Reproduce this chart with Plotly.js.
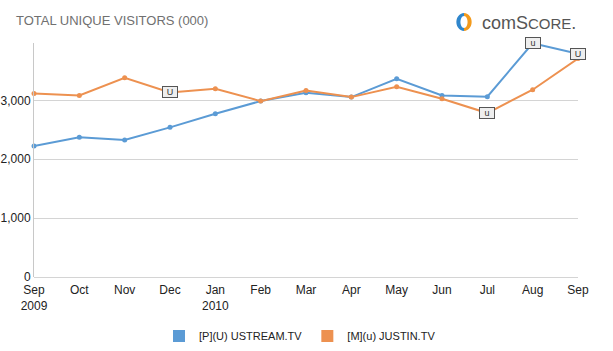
<!DOCTYPE html>
<html>
<head>
<meta charset="utf-8">
<script src="https://cdn.plot.ly/plotly-3.0.1.min.js"></script>
<style>html,body{margin:0;padding:0;background:#fff;}#chart{width:613px;height:351px;}</style>
</head>
<body>
<div id="chart"></div>
<script>
const months = ["Sep<br>2009","Oct","Nov","Dec","Jan<br>2010","Feb","Mar","Apr","May","Jun","Jul","Aug","Sep"];
const ustream = [2225, 2373, 2327, 2542, 2774, 2988, 3130, 3056, 3367, 3085, 3063, 3971, 3791];
const justin  = [3119, 3085, 3385, 3136, 3198, 2988, 3169, 3056, 3232, 3028, 2785, 3181, 3712];
const seriesNames = ["[P](U) USTREAM.TV", "[M](u) JUSTIN.TV"];
const colors = ["#5b9bd5", "#ed9150"];
// flags: [series index, point index, label]
const flags = [[1, 3, "U"], [1, 10, "u"], [0, 11, "u"], [0, 12, "U"]];

const idx = months.map((_, i) => i);
const series = [ustream, justin];
const traces = [];
series.forEach((vals, s) => {
  traces.push({x: idx, y: vals, type: 'scatter', mode: 'lines+markers', cliponaxis: false,
    line: {color: colors[s], width: 2}, marker: {color: colors[s], size: 5},
    showlegend: false, hoverinfo: 'skip'});
});
series.forEach((vals, s) => {
  traces.push({x: [null], y: [null], type: 'scatter', mode: 'markers', name: seriesNames[s],
    marker: {color: colors[s], size: 7, symbol: 'square'}, showlegend: true});
});

const PW = 544, PH = 234, L = 34, T = 43;
const px = v => (v - L) / PW;
const py = v => 1 - (v - T) / PH;

const annotations = flags.map(([s, i, t]) => ({
  x: i, y: series[s][i], xref: 'x', yref: 'y', text: t, showarrow: false,
  font: {family: 'Liberation Sans, Arial, sans-serif', size: 9, color: '#333'},
  bgcolor: '#eeeeee', bordercolor: '#555', borderwidth: 1, borderpad: 0,
  width: 14, height: 10
}));
annotations.push({xref: 'paper', yref: 'paper', x: px(14), y: py(21), xanchor: 'left', yanchor: 'middle',
  text: 'TOTAL UNIQUE VISITORS (000)', showarrow: false,
  font: {family: 'Liberation Sans, Arial, sans-serif', size: 13, color: '#707070'}});
annotations.push({xref: 'paper', yref: 'paper', x: px(480), y: py(23), xanchor: 'left', yanchor: 'middle',
  text: 'comS<span style="font-size:15px">CORE</span>.', showarrow: false,
  font: {family: 'Liberation Sans, Arial, sans-serif', size: 18, color: '#555'}});

// logo icon: two half-ring polygons
function halfRing(cx, cy, ro, ri, rxScale, side) {
  const pts = [];
  const n = 14;
  for (let k = 0; k <= n; k++) {
    const a = -Math.PI / 2 + Math.PI * k / n;
    pts.push([cx + side * Math.cos(a) * ro * rxScale, cy + Math.sin(a) * ro]);
  }
  for (let k = n; k >= 0; k--) {
    const a = -Math.PI / 2 + Math.PI * k / n;
    pts.push([cx + side * Math.cos(a) * ri * rxScale * 0.7, cy + Math.sin(a) * ri]);
  }
  return 'M ' + pts.map(p => px(p[0]).toFixed(5) + ',' + py(p[1]).toFixed(5)).join(' L ') + ' Z';
}
const shapes = [
  {type: 'path', xref: 'paper', yref: 'paper', path: halfRing(464, 22, 9, 6, 0.85, -1), fillcolor: '#2f86cc', line: {width: 0}},
  {type: 'path', xref: 'paper', yref: 'paper', path: halfRing(464, 22, 9, 6, 0.85, 1), fillcolor: '#f39a1c', line: {width: 0}}
];

const layout = {
  width: 613, height: 351,
  margin: {l: L, r: 613 - L - PW, t: T, b: 351 - T - PH, autoexpand: false},
  paper_bgcolor: '#fff', plot_bgcolor: '#fff',
  font: {family: 'Liberation Sans, Arial, sans-serif', size: 12, color: '#222'},
  xaxis: {range: [0, 12], tickvals: idx, ticktext: months, showgrid: false, zeroline: false, automargin: false,
    showline: false, ticks: '', ticklabelstandoff: 4, tickfont: {size: 12, color: '#222'}},
  yaxis: {range: [0, 3975], tickvals: [0, 1000, 2000, 3000], tickformat: ',d', automargin: false,
    showgrid: true, gridcolor: '#d4d4d4', gridwidth: 1, zeroline: true, zerolinecolor: '#d4d4d4',
    showline: true, linecolor: '#c8c8c8', ticks: '', tickfont: {size: 12, color: '#222'}},
  showlegend: true,
  legend: {orientation: 'h', x: px(300), xanchor: 'center', y: py(336), yanchor: 'middle',
    font: {size: 11, color: '#222'}, itemsizing: 'constant'},
  annotations: annotations,
  shapes: shapes
};
Plotly.newPlot('chart', traces, layout, {displayModeBar: false, staticPlot: true});
</script>
</body>
</html>
